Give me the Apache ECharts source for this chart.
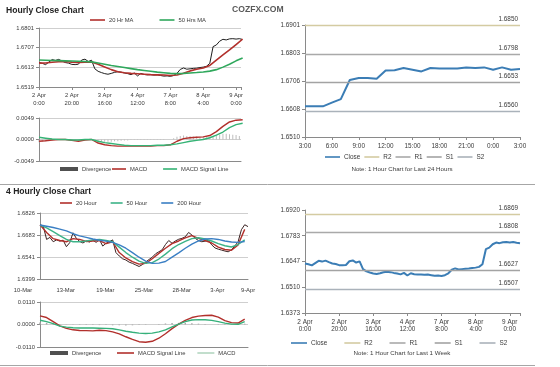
<!DOCTYPE html>
<html>
<head>
<meta charset="utf-8">
<script src="https://cdn.jsdelivr.net/npm/echarts@6.0.0/dist/echarts.min.js"></script>
<style>
html,body{margin:0;padding:0;background:#ffffff;}
#chart{width:560px;height:367px;}
</style>
</head>
<body>
<div id="chart"></div>
<script>
// ---------- tick labels ----------
const hourlyXTicks = ['2 Apr\n0:00','2 Apr\n20:00','3 Apr\n16:00','4 Apr\n12:00','7 Apr\n8:00','8 Apr\n4:00','9 Apr\n0:00'];
const hourlyYTicks = ['1.6519','1.6613','1.6707','1.6801'];
const hourlyMacdYTicks = ['-0.0049','0.0000','0.0049'];
const dayXTicks = ['3:00','6:00','9:00','12:00','15:00','18:00','21:00','0:00','3:00'];
const dayYTicks = ['1.6510','1.6608','1.6706','1.6803','1.6901'];
const fourHourXTicks = ['10-Mar','13-Mar','19-Mar','25-Mar','28-Mar','3-Apr','9-Apr'];
const fourHourYTicks = ['1.6399','1.6541','1.6683','1.6826'];
const fourHourMacdYTicks = ['-0.0110','0.0000','0.0110'];
const weekYTicks = ['1.6373','1.6510','1.6647','1.6783','1.6920'];

// ---------- pivot levels ----------
const levelNames = ['R2','R1','S1','S2'];
const dayLevels = [1.6850, 1.6798, 1.6653, 1.6560];
const weekLevels = [1.6869, 1.6808, 1.6627, 1.6507];

// ---------- hourly data (one value every 2 hours from 2 Apr 0:00) ----------
const hourlyClose = [1.6636,1.6632,1.6626,1.6638,1.6650,1.6646,1.6651,1.6643,1.6636,1.6633,
 1.6627,1.6626,1.6628,1.6648,1.6652,1.6641,1.6647,1.6606,1.6594,1.6588,
 1.6583,1.6580,1.6584,1.6589,1.6592,1.6590,1.6586,1.6583,1.6578,1.6586,
 1.6572,1.6584,1.6579,1.6577,1.6578,1.6576,1.6577,1.6574,1.6571,1.6572,
 1.6570,1.6574,1.6584,1.6603,1.6610,1.6604,1.6606,1.6608,1.6609,1.6612,
 1.6614,1.6618,1.6632,1.6712,1.6720,1.6738,1.6747,1.6744,1.6749,1.6750,
 1.6748,1.6750,1.6746,1.6744];
// every 4 hours
const hourlyMA20 = [1.6633,1.6634,1.6637,1.6640,1.6641,1.6638,1.6636,1.6638,1.6639,1.6628,
 1.6615,1.6602,1.6592,1.6587,1.6584,1.6582,1.6580,1.6578,1.6577,1.6576,
 1.6574,1.6576,1.6585,1.6596,1.6604,1.6610,1.6622,1.6648,1.6672,1.6696,1.6722,1.6748];
const hourlyMA50 = [1.6648,1.6647,1.6646,1.6645,1.6644,1.6643,1.6642,1.6641,1.6639,1.6634,
 1.6628,1.6622,1.6617,1.6612,1.6607,1.6602,1.6598,1.6594,1.6590,1.6587,
 1.6584,1.6583,1.6584,1.6586,1.6588,1.6591,1.6595,1.6602,1.6614,1.6628,1.6644,1.6658];
const hourlyMacd = [-0.0004,-0.0003,-0.0001,0.0000,0.0000,-0.0002,-0.0004,-0.0001,0.0000,-0.0008,
 -0.0012,-0.0014,-0.0015,-0.0015,-0.0015,-0.0015,-0.0015,-0.0015,-0.0014,-0.0014,
 -0.0012,-0.0004,0.0002,0.0004,0.0005,0.0006,0.0009,0.0018,0.0030,0.0040,0.0044,0.0045];
const hourlySignal = [0.0005,0.0003,0.0001,0.0000,0.0000,-0.0001,-0.0001,0.0000,0.0000,-0.0004,
 -0.0007,-0.0009,-0.0011,-0.0013,-0.0014,-0.0014,-0.0014,-0.0014,-0.0013,-0.0013,
 -0.0012,-0.0010,-0.0007,-0.0004,-0.0002,0.0000,0.0004,0.0010,0.0017,0.0027,0.0034,0.0037];
// every 2 hours
const hourlyDivergence = [-0.0006,-0.0005,-0.0004,-0.0003,-0.0002,-0.0001,0.0000,0.0000,0.0000,-0.0001,
 -0.0001,-0.0002,-0.0002,-0.0001,0.0000,0.0000,-0.0001,-0.0003,-0.0004,-0.0005,
 -0.0005,-0.0005,-0.0005,-0.0004,-0.0004,-0.0003,-0.0002,-0.0002,-0.0001,-0.0001,
 -0.0001,-0.0001,-0.0001,-0.0001,-0.0001,-0.0001,-0.0001,-0.0001,-0.0001,0.0000,
 0.0000,0.0003,0.0006,0.0008,0.0009,0.0008,0.0008,0.0007,0.0007,0.0006,
 0.0006,0.0005,0.0006,0.0007,0.0009,0.0011,0.0013,0.0013,0.0012,0.0011,0.0010,0.0008];

// ---------- last 24 hours (hourly, 3:00 .. 3:00) ----------
const dayClose = [1.6617,1.6617,1.6617,1.6630,1.6642,1.6709,1.6716,1.6716,1.6713,1.6742,
 1.6743,1.6751,1.6745,1.6739,1.6751,1.6749,1.6749,1.6749,1.6753,1.6751,
 1.6753,1.6745,1.6753,1.6745,1.6747];

// ---------- 4 hourly data ----------
const fourHourClose = [1.6752,1.6740,1.6655,1.6668,1.6640,1.6652,1.6644,1.6650,1.6608,1.6634,
 1.6698,1.6662,1.6642,1.6632,1.6645,1.6638,1.6650,1.6636,1.6654,1.6612,
 1.6630,1.6640,1.6652,1.6570,1.6548,1.6530,1.6522,1.6508,1.6500,1.6490,
 1.6480,1.6492,1.6508,1.6525,1.6540,1.6562,1.6575,1.6588,1.6622,1.6648,
 1.6630,1.6645,1.6656,1.6662,1.6672,1.6700,1.6684,1.6662,1.6648,1.6640,
 1.6644,1.6648,1.6620,1.6600,1.6592,1.6586,1.6580,1.6575,1.6588,1.6612,
 1.6640,1.6718,1.6750,1.6738];
const fourHourMA20 = [1.6750,1.6700,1.6660,1.6648,1.6640,1.6660,1.6655,1.6642,1.6645,1.6648,
 1.6628,1.6640,1.6570,1.6535,1.6512,1.6495,1.6500,1.6530,1.6565,1.6598,
 1.6628,1.6645,1.6665,1.6680,1.6662,1.6648,1.6632,1.6605,1.6590,1.6585,1.6620,1.6720];
const fourHourMA50 = [1.6748,1.6730,1.6705,1.6680,1.6655,1.6640,1.6640,1.6645,1.6652,1.6655,
 1.6648,1.6640,1.6605,1.6570,1.6540,1.6515,1.6500,1.6505,1.6528,1.6560,
 1.6595,1.6622,1.6642,1.6660,1.6666,1.6658,1.6645,1.6628,1.6614,1.6606,1.6622,1.6652];
const fourHourMA200 = [1.6748,1.6740,1.6732,1.6722,1.6710,1.6692,1.6678,1.6668,1.6658,1.6650,
 1.6644,1.6636,1.6620,1.6598,1.6570,1.6540,1.6515,1.6500,1.6502,1.6512,
 1.6540,1.6568,1.6598,1.6625,1.6645,1.6658,1.6660,1.6655,1.6645,1.6638,1.6636,1.6642];
const fourHourSignal = [0.0042,0.0034,0.0014,-0.0007,-0.0019,-0.0026,-0.0029,-0.0030,-0.0031,-0.0028,
 -0.0030,-0.0036,-0.0046,-0.0060,-0.0073,-0.0084,-0.0087,-0.0082,-0.0067,-0.0045,
 -0.0020,0.0002,0.0020,0.0034,0.0041,0.0044,0.0045,0.0036,0.0019,0.0009,0.0007,0.0026];
const fourHourMacd = [0.0021,0.0014,0.0004,-0.0008,-0.0013,-0.0016,-0.0017,-0.0017,-0.0017,-0.0018,
 -0.0019,-0.0021,-0.0026,-0.0033,-0.0038,-0.0042,-0.0044,-0.0042,-0.0036,-0.0026,
 -0.0012,0.0002,0.0014,0.0022,0.0024,0.0023,0.0020,0.0014,0.0007,0.0002,0.0001,0.0014];
const fourHourDivergence = [0.0010,0.0008,0.0004,0.0002,0.0001,-0.0001,-0.0002,-0.0002,-0.0003,-0.0003,
 -0.0003,-0.0004,-0.0004,-0.0005,-0.0004,-0.0003,-0.0002,0.0000,0.0003,0.0005,
 0.0007,0.0008,0.0008,0.0006,0.0004,0.0002,0.0000,-0.0002,-0.0002,-0.0001,0.0001,0.0004];

// ---------- styling ----------
const FONT = '"Liberation Sans", Arial, Helvetica, sans-serif';
const FS_L = 5.8, FS_R = 6.4;
const AX = '#8a8a8a', GRIDC = '#cfcfcf', TXT = '#3a3a3a';
const RED = '#b2302c', GREEN = '#2fa85c', BLUE = '#3b7db5';
const levelColors = ['#d4cba2','#a9a9a9','#a3a3a3','#aab2ba'];

const pts = (vals, step) => vals.map((v, i) => [i * step, v]);

function makeY(gi, ticks, fs, split) {
  const min = parseFloat(ticks[0]), max = parseFloat(ticks[ticks.length - 1]);
  const iv = (max - min) / (ticks.length - 1);
  return {
    type: 'value', gridIndex: gi, min: min, max: max, interval: iv,
    axisLine: {show: true, lineStyle: {color: AX, width: 1}},
    axisTick: {show: true, length: 3, lineStyle: {color: AX}},
    splitLine: {show: split, lineStyle: {color: GRIDC, width: 1}},
    axisLabel: {fontSize: fs, color: TXT, fontFamily: FONT, margin: 5,
      formatter: function (v) {
        const k = Math.round((v - min) / iv);
        return (Math.abs(min + k * iv - v) < iv * 0.02 && ticks[k]) ? ticks[k] : '';
      }}
  };
}

function makeX(gi, min, max, iv, ticks, fs, o) {
  const rich = {};
  const shifts = o.shifts || [];
  shifts.forEach(function (d, k) {
    rich['s' + k] = {fontSize: fs, fontFamily: FONT, color: TXT,
      padding: d < 0 ? [0, -2 * d, 0, 0] : [0, 0, 0, 2 * d]};
  });
  return {
    type: 'value', gridIndex: gi, position: 'bottom', min: min, max: max, interval: iv,
    axisLine: {show: o.line !== false, onZero: false, lineStyle: {color: AX, width: 1}},
    axisTick: {show: !!o.tick, length: 3, lineStyle: {color: AX}},
    splitLine: {show: false},
    axisLabel: {show: !!ticks, fontSize: fs, color: TXT, fontFamily: FONT,
      margin: o.margin || 5, lineHeight: o.lh || fs * 1.25, rich: rich,
      showMinLabel: true, showMaxLabel: true, hideOverlap: false,
      formatter: function (v) {
        if (!ticks) return '';
        const k = Math.round((v - min) / iv);
        if (Math.abs(min + k * iv - v) > 1e-6 || !ticks[k]) return '';
        if (o.only && o.only.indexOf(k) < 0) return '';
        return (shifts[k] !== undefined && shifts[k] !== 0) ? '{s' + k + '|' + ticks[k] + '}' : ticks[k];
      }}
  };
}

function lineS(name, xi, data, color, width, z) {
  return {type: 'line', name: name, xAxisIndex: xi, yAxisIndex: xi, data: data,
    symbol: 'none', showSymbol: false, clip: true, z: z || 2,
    itemStyle: {color: color}, lineStyle: {color: color, width: width}};
}
function barS(name, xi, data, color, w) {
  return {type: 'bar', name: name, xAxisIndex: xi, yAxisIndex: xi, data: data,
    barWidth: w, itemStyle: {color: color}, z: 1};
}
function levelS(k, xi, levels) {
  return {type: 'line', name: levelNames[k], xAxisIndex: xi, yAxisIndex: xi, data: [],
    symbol: 'none', itemStyle: {color: levelColors[k]}, lineStyle: {color: levelColors[k], width: 1},
    markLine: {silent: true, symbol: 'none', animation: false,
      lineStyle: {color: levelColors[k], type: 'solid', width: 1.3},
      label: {show: true, position: 'insideEndTop', distance: [2, 3], formatter: levels[k].toFixed(4),
        fontSize: FS_R, color: TXT, fontFamily: FONT},
      data: [{yAxis: levels[k]}]}};
}

function lineLegend(left, top, items, iw, gap, fs) {
  return {left: left, top: top, padding: 0, itemWidth: iw, itemHeight: 1.6, itemGap: gap,
    icon: 'rect', selectedMode: false,
    itemStyle: {borderWidth: 0, borderColor: 'transparent'},
    textStyle: {fontSize: fs, color: TXT, fontFamily: FONT, padding: [0, 0, 0, -1]},
    data: items.map(function (it) { return {name: it[0], icon: 'rect', itemStyle: {color: it[1], borderWidth: 0, borderColor: 'transparent'}}; })};
}
function barLegend(left, top, fs) {
  return {left: left, top: top, padding: 0, itemWidth: 18, itemHeight: 4, selectedMode: false,
    itemStyle: {borderWidth: 0, borderColor: 'transparent'},
    textStyle: {fontSize: fs, color: TXT, fontFamily: FONT, padding: [0, 0, 0, -1]},
    data: [{name: 'Divergence', icon: 'rect', itemStyle: {color: '#505050', borderWidth: 0, borderColor: 'transparent'}}]};
}

const series = [];
// top-left price
series.push(lineS('Hourly Close', 0, pts(hourlyClose, 2), '#1e1e1e', 1, 2));
series.push(lineS('20 Hr MA', 0, pts(hourlyMA20, 4), RED, 1.6, 3));
series.push(lineS('50 Hrs MA', 0, pts(hourlyMA50, 4), GREEN, 1.6, 3));
// top-left MACD
series.push(barS('Divergence', 1, pts(hourlyDivergence, 2), '#bdbdbd', 1));
series.push(lineS('MACD', 1, pts(hourlyMacd, 4), RED, 1.4, 3));
series.push(lineS('MACD Signal Line', 1, pts(hourlySignal, 4), '#35b375', 1.4, 3));
// top-right 24h
series.push(lineS('Close', 2, pts(dayClose, 1), BLUE, 2, 3));
levelNames.forEach(function (n, k) { series.push(levelS(k, 2, dayLevels)); });
// bottom-left 4h price
series.push(lineS('4 Hourly Close', 3, pts(fourHourClose, 2), '#3a2222', 1, 2));
series.push(lineS('20 Hour', 3, pts(fourHourMA20, 4), RED, 1.4, 3));
series.push(lineS('50 Hour', 3, pts(fourHourMA50, 4), '#3cb388', 1.4, 3));
series.push(lineS('200 Hour', 3, pts(fourHourMA200, 4), '#3a7fc4', 1.4, 3));
// bottom-left MACD
series.push(barS('Divergence', 4, pts(fourHourDivergence, 4), '#a8a8a8', 1.5));
series.push(lineS('MACD Signal Line', 4, pts(fourHourSignal, 4), RED, 1.4, 3));
series.push(lineS('MACD', 4, pts(fourHourMacd, 4), '#35b07a', 1.4, 3));
// bottom-right week
series.push(lineS('Close', 5, pts(hourlyClose, 2), BLUE, 2, 3));
levelNames.forEach(function (n, k) { series.push(levelS(k, 5, weekLevels)); });

const titleFont = 'bold 8.6px "Liberation Sans", Arial, sans-serif';
const noteFont = '6.2px "Liberation Sans", Arial, sans-serif';

const option = {
  animation: false,
  backgroundColor: '#ffffff',
  grid: [
    {left: 39, top: 28, width: 202, height: 59},
    {left: 39, top: 118, width: 202, height: 43},
    {left: 305, top: 25, width: 215, height: 112},
    {left: 40, top: 213, width: 208, height: 66},
    {left: 40, top: 302, width: 208, height: 45},
    {left: 305, top: 210, width: 215, height: 103}
  ],
  xAxis: [
    makeX(0, 0, 123, 20, hourlyXTicks, FS_L, {tick: true, margin: 5, lh: 7.6}),
    makeX(1, 0, 123, 20, null, FS_L, {tick: false}),
    makeX(2, 0, 24, 3, dayXTicks, FS_R, {tick: true, margin: 5}),
    makeX(3, 0, 126, 21, fourHourXTicks, FS_L, {tick: false, margin: 8, only: [1, 2, 3, 4, 5, 6], shifts: [0, -9, -4, 0, 3, 4, 0]}),
    makeX(4, 0, 126, 21, null, FS_L, {tick: false}),
    makeX(5, 0, 126, 20, hourlyXTicks, FS_R, {tick: true, margin: 5, lh: 7.6}),
    makeX(3, 0, 126, 21, fourHourXTicks, FS_L, {tick: false, line: false, margin: 8, only: [0], shifts: [-17]})
  ],
  yAxis: [
    makeY(0, hourlyYTicks, FS_L, true),
    makeY(1, hourlyMacdYTicks, FS_L, true),
    makeY(2, dayYTicks, FS_R, false),
    makeY(3, fourHourYTicks, FS_L, true),
    makeY(4, fourHourMacdYTicks, FS_L, true),
    makeY(5, weekYTicks, FS_R, false)
  ],
  legend: [
    lineLegend(90, 17, [['20 Hr MA', RED], ['50 Hrs MA', GREEN]], 15, 26, FS_L),
    barLegend(60, 166, FS_L),
    lineLegend(112, 166, [['MACD', RED], ['MACD Signal Line', '#35b375']], 14, 16, FS_L),
    lineLegend(325, 154, [['Close', BLUE], ['R2', levelColors[0]], ['R1', levelColors[1]], ['S1', levelColors[2]], ['S2', levelColors[3]]], 15, 4, FS_R),
    lineLegend(60, 200, [['20 Hour', RED], ['50 Hour', '#3cb388'], ['200 Hour', '#3a7fc4']], 12, 14, FS_L),
    barLegend(50, 350, FS_L),
    lineLegend(117, 350, [['MACD Signal Line', RED], ['MACD', '#b3d6c0']], 17, 12, FS_L),
    lineLegend(291, 340, [['Close', BLUE], ['R2', levelColors[0]], ['R1', levelColors[1]], ['S1', levelColors[2]], ['S2', levelColors[3]]], 16, 17, FS_R)
  ],
  series: series,
  graphic: [
    {type: 'text', x: 6, y: 10.5, silent: true, style: {text: 'Hourly Close Chart', font: titleFont, fill: '#222', verticalAlign: 'middle', textVerticalAlign: 'middle'}},
    {type: 'text', x: 232, y: 10, silent: true, style: {text: 'COZFX.COM', font: titleFont, fill: '#5a5a5a', verticalAlign: 'middle', textVerticalAlign: 'middle'}},
    {type: 'text', x: 6, y: 192, silent: true, style: {text: '4 Hourly Close Chart', font: titleFont, fill: '#222', verticalAlign: 'middle', textVerticalAlign: 'middle'}},
    {type: 'text', x: 402, y: 169, silent: true, style: {text: 'Note: 1 Hour Chart for Last 24 Hours', font: noteFont, fill: TXT, align: 'center', textAlign: 'center', verticalAlign: 'middle', textVerticalAlign: 'middle'}},
    {type: 'text', x: 402, y: 353, silent: true, style: {text: 'Note: 1 Hour Chart for Last 1 Week', font: noteFont, fill: TXT, align: 'center', textAlign: 'center', verticalAlign: 'middle', textVerticalAlign: 'middle'}},
    {type: 'line', silent: true, shape: {x1: 0, y1: 184.5, x2: 535, y2: 184.5}, style: {stroke: '#a6a6a6', lineWidth: 1}},
    {type: 'line', silent: true, shape: {x1: 0, y1: 365.5, x2: 535, y2: 365.5}, style: {stroke: '#a6a6a6', lineWidth: 1}}
  ]
};

const chart = echarts.init(document.getElementById('chart'), null, {renderer: 'canvas'});
chart.setOption(option);
</script>
</body>
</html>
